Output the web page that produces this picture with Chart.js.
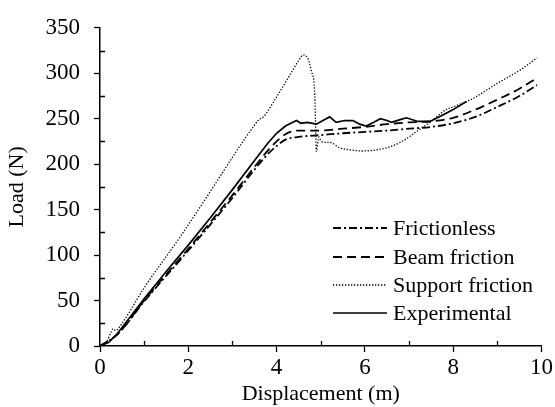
<!DOCTYPE html>
<html>
<head>
<meta charset="utf-8">
<script src="https://cdn.jsdelivr.net/npm/chart.js@4/dist/chart.umd.min.js"></script>
<style>
  html,body{margin:0;padding:0;background:#fff;}
  #wrap{width:555px;height:407px;}
</style>
</head>
<body>
<div id="wrap"><canvas id="loadChart" width="555" height="407"></canvas></div>
<script>
// values
const seriesLabels=["Frictionless","Beam friction","Support friction","Experimental"];

const frictionlessX=[0,0.4,1,2,3,3.5,3.8,4.0,4.2,4.5,5.0,5.5,6.0,6.5,7.0,7.5,8.0,8.5,9.0,9.5,9.9];
const frictionlessY=[0,13,49,105,163,194,211,220,227,230,232,234,235.5,237,239,241,245,252,263,275,287];

const beamX=[0,0.4,1,2,3,3.5,3.8,4.0,4.2,4.5,5.0,5.5,6.0,6.5,7.0,7.5,8.0,8.5,9.0,9.5,9.9];
const beamY=[0,13,50,107,166,197,215,225,233,237,237,239,241,244,246,247,251,260,271,283,295];

const supportX=[0,0.15,0.25,0.3,0.35,0.5,1.0,1.8,2.5,3.1,3.5,3.6,3.7,4.0,4.3,4.5,4.6,4.7,4.79,4.86,4.88,4.9,4.96,5.0,5.1,5.2,5.43,5.7,5.95,6.3,6.56,6.8,7.0,7.2,7.47,7.84,8.0,8.4,9.0,9.5,9.9];
const supportY=[0,5,15,19,17,25,64,119,170,215,243,249,252,274,298,314,320,317,302,281,250,214,230,226,224,224,218,215.5,214.5,216,219,224,230,237,246,260,263,271,289,303,317];

const expX=[0,0.2,0.4,0.7,1.0,1.5,2.0,2.5,3.0,3.5,3.8,4.0,4.2,4.45,4.55,4.7,4.9,5.05,5.2,5.35,5.54,5.73,5.88,6.03,6.2,6.35,6.5,6.6,6.8,6.94,7.2,7.47,7.6,7.84,8.0,8.3];
const expY=[0,4,14,33,52,82,111,141,172,204,223,234,242,248,245,246,244,248,252,246,248,248,244,242,246,250,248,246,249,251,247,247,250,256,260,269];

const xTicks=[0,2,4,6,8,10];
const yTicks=[0,50,100,150,200,250,300,350];

function pts(xs,ys){
    return xs.map((x,i)=>({x:x,y:ys[i]}));
}

const serif="'Liberation Serif','Times New Roman',serif";
Chart.defaults.font.family=serif;
Chart.defaults.font.size=22;
Chart.defaults.color="#000";

// inward minor ticks + legend inside the plot
const extras={
    id:"extras",
    afterDraw(chart){
        const ctx=chart.ctx;
        const xs=chart.scales.x, ys=chart.scales.y;
        ctx.save();
        ctx.strokeStyle="#000";
        ctx.lineWidth=1.3;
        ctx.beginPath();
        for(let v=1;v<10;v+=2){
            const px=Math.round(xs.getPixelForValue(v))+0.5;
            ctx.moveTo(px,ys.bottom);
            ctx.lineTo(px,ys.bottom-5);
        }
        for(let v=25;v<350;v+=50){
            const py=Math.round(ys.getPixelForValue(v))+0.5;
            ctx.moveTo(xs.left,py);
            ctx.lineTo(xs.left+5,py);
        }
        ctx.stroke();

        // legend
        const lx0=333, lx1=387, rows=[228,257,285,313];
        chart.data.datasets.forEach((ds,i)=>{
            const y=rows[i];
            ctx.beginPath();
            ctx.setLineDash(ds.borderDash||[]);
            ctx.lineWidth=ds.borderWidth;
            ctx.moveTo(lx0,y);
            ctx.lineTo(lx1,y);
            ctx.stroke();
            ctx.setLineDash([]);
            ctx.fillStyle="#000";
            ctx.font="22px "+serif;
            ctx.textAlign="left";
            ctx.textBaseline="middle";
            ctx.fillText(ds.label,393,y+1);
        });
        ctx.restore();
    }
};

new Chart("loadChart",{
    type:"line",
    data:{
        datasets:[
            {label:seriesLabels[0],data:pts(frictionlessX,frictionlessY),borderColor:"#000",borderWidth:1.8,borderDash:[8,3,2,3],cubicInterpolationMode:"monotone"},
            {label:seriesLabels[1],data:pts(beamX,beamY),borderColor:"#000",borderWidth:1.8,borderDash:[9,5],cubicInterpolationMode:"monotone"},
            {label:seriesLabels[2],data:pts(supportX,supportY),borderColor:"#000",borderWidth:1.3,borderDash:[1.3,1.7],cubicInterpolationMode:"monotone"},
            {label:seriesLabels[3],data:pts(expX,expY),borderColor:"#000",borderWidth:1.7,tension:0}
        ]
    },
    options:{
        responsive:false,
        animation:false,
        layout:{padding:{top:15,right:13,left:0,bottom:0}},
        elements:{point:{radius:0}},
        plugins:{legend:{display:false},tooltip:{enabled:false}},
        scales:{
            x:{
                type:"linear",
                min:0,max:10,
                afterFit(s){ s.height=61; },
                afterBuildTicks(s){ s.ticks=[0,1,2,3,4,5,6,7,8,9,10].map(v=>({value:v})); },
                ticks:{
                    callback:v=>xTicks.includes(v)?v:"",
                    padding:2,
                    maxRotation:0,
                    autoSkip:false,
                    font:{size:23}
                },
                grid:{
                    drawOnChartArea:false,
                    tickLength:6,
                    tickWidth:1.3,
                    tickColor:c=>xTicks.includes(c.tick.value)?"#000":"rgba(0,0,0,0)"
                },
                border:{color:"#000",width:1.5},
                title:{display:true,text:"Displacement (m)",padding:{top:0,bottom:0},font:{size:22}}
            },
            y:{
                min:0,max:350,
                afterFit(s){ s.width=100; },
                afterBuildTicks(s){
                    const t=[];
                    for(let v=0;v<=350;v+=25) t.push({value:v});
                    s.ticks=t;
                },
                ticks:{
                    callback:v=>yTicks.includes(v)?v:"",
                    padding:14,
                    autoSkip:false,
                    font:{size:23}
                },
                grid:{
                    drawOnChartArea:false,
                    tickLength:6,
                    tickWidth:1.3,
                    tickColor:c=>yTicks.includes(c.tick.value)?"#000":"rgba(0,0,0,0)"
                },
                border:{color:"#000",width:1.5},
                title:{display:true,text:"Load (N)",padding:{top:4,bottom:0},font:{size:22}}
            }
        }
    },
    plugins:[extras]
});
</script>
</body>
</html>
